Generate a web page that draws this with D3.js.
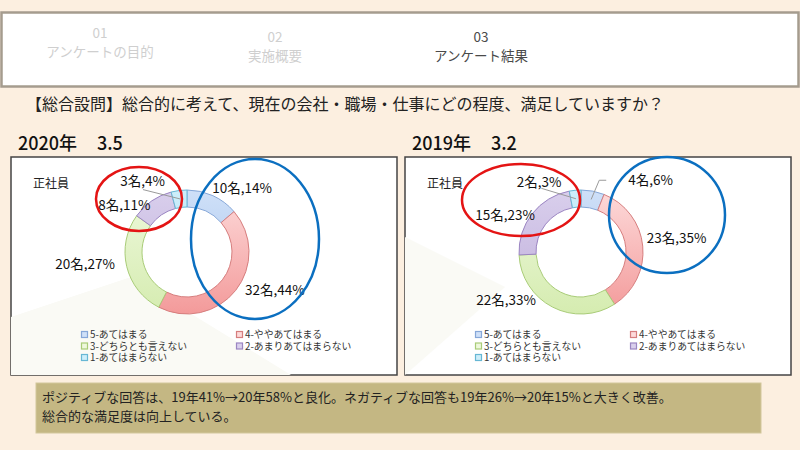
<!DOCTYPE html>
<html>
<head>
<meta charset="utf-8">
<script src="https://cdn.jsdelivr.net/npm/d3@7/dist/d3.min.js"></script>
<style>
  body { margin: 0; background: #fcefe0; }
  svg { display: block; font-family: "Noto Sans CJK JP", "Noto Sans", sans-serif; }
</style>
</head>
<body>
<div id="chart"></div>
<script>
// categories and values
const categories = ["5-あてはまる", "4-ややあてはまる", "3-どちらとも言えない", "2-あまりあてはまらない", "1-あてはまらない"];
const counts2020 = [10, 32, 20, 8, 3];
const pct2020 = [14, 44, 27, 11, 4];
const counts2019 = [4, 23, 22, 15, 2];
const pct2019 = [6, 35, 33, 23, 3];
const navSteps = ["01", "02", "03"];
const navLabels = ["アンケートの目的", "実施概要", "アンケート結果"];
const question = "【総合設問】総合的に考えて、現在の会社・職場・仕事にどの程度、満足していますか？";
const summary = ["ポジティブな回答は、19年41%→20年58%と良化。ネガティブな回答も19年26%→20年15%と大きく改善。",
                 "総合的な満足度は向上している。"];

const W = 800, H = 450;

const seriesColors = [
  {top: "#cfe0f8", bottom: "#a3c2ec", stroke: "#86a7d8"},
  {top: "#fddada", bottom: "#f39a9a", stroke: "#d67e7e"},
  {top: "#eef8dc", bottom: "#d5ecb0", stroke: "#a9cc78"},
  {top: "#d9cfec", bottom: "#bfaedb", stroke: "#9b85c2"},
  {top: "#cdeefa", bottom: "#a9ddf2", stroke: "#67b7d4"}
];

const svg = d3.select("#chart").append("svg")
    .attr("width", W)
    .attr("height", H);

const defs = svg.append("defs");

// ---- top navigation box
svg.append("rect")
    .attr("x", 1.5).attr("y", 12.5)
    .attr("width", 797).attr("height", 74)
    .attr("fill", "#fff")
    .attr("stroke", "#a59c8e")
    .attr("stroke-width", 2.5);

const navPos = {"01": 100, "02": 275, "03": 481};
navSteps.forEach((s, i) => {
  const active = i === navSteps.length - 1;
  const g = svg.append("g").attr("fill", active ? "#4a4a4a" : "#cfcfcf");
  g.append("text")
      .attr("x", navPos[s]).attr("y", i === 0 ? 38 : 42)
      .attr("text-anchor", "middle")
      .attr("font-size", 13.5)
      .text(s);
  g.append("text")
      .attr("x", navPos[s]).attr("y", i === 0 ? 57 : 61)
      .attr("text-anchor", "middle")
      .attr("font-size", 13.5)
      .text(navLabels[i]);
});

// ---- question
svg.append("text")
    .attr("x", 26).attr("y", 110)
    .attr("font-size", 16)
    .attr("fill", "#222")
    .text(question);

// ---- one donut panel
function drawPanel(opts) {
  const {year, score, counts, pcts, boxX, layout} = opts;
  const boxW = 386, boxY = 157, boxH = 218;
  const cx = boxX + 176, cy = 252;
  const rOuter = 62, rInner = 45;

  svg.append("text")
      .attr("x", boxX + 7).attr("y", 150)
      .attr("font-size", 18)
      .attr("font-weight", 500)
      .attr("fill", "#111")
      .call(t => t.append("tspan").text(year + "年"))
      .call(t => t.append("tspan").attr("x", boxX + 86).text(score));

  const g = svg.append("g");

  g.append("rect")
      .attr("x", boxX).attr("y", boxY)
      .attr("width", boxW).attr("height", boxH)
      .attr("fill", "#fff")
      .attr("stroke", "#444")
      .attr("stroke-width", 1.5);

  // faint decorative background shape
  g.append("path")
      .attr("d", layout.bgShape.map((p, i) => (i ? "L" : "M") + (boxX + p[0]) + "," + (boxY + p[1])).join("") + "Z")
      .attr("fill", "#fafaf5");

  g.append("text")
      .attr("x", boxX + 22).attr("y", 188)
      .attr("font-size", 12)
      .attr("fill", "#222")
      .text("正社員");

  // gradients per series (in the ring's local, translated coordinates)
  seriesColors.forEach((c, i) => {
    const lg = defs.append("linearGradient")
        .attr("id", "grad" + year + "_" + i)
        .attr("gradientUnits", "userSpaceOnUse")
        .attr("x1", 0).attr("x2", 0)
        .attr("y1", -rOuter).attr("y2", rOuter);
    lg.append("stop").attr("offset", "0%").attr("stop-color", c.top);
    lg.append("stop").attr("offset", "100%").attr("stop-color", c.bottom);
  });

  const pie = d3.pie().sort(null).value(d => d);
  const arcs = pie(counts);
  const arc = d3.arc().innerRadius(rInner).outerRadius(rOuter);

  const ring = g.append("g").attr("transform", `translate(${cx},${cy})`);
  ring.selectAll("path")
      .data(arcs)
      .join("path")
      .attr("d", arc)
      .attr("fill", (d, i) => `url(#grad${year}_${i})`)
      .attr("stroke", (d, i) => seriesColors[i].stroke)
      .attr("stroke-width", 1);

  // labels placed outside the ring on the mid angle
  const labelR = rOuter + 8;
  arcs.forEach((d, i) => {
    const a = (d.startAngle + d.endAngle) / 2;
    const nx = layout.nudge[i][0], ny = layout.nudge[i][1];
    const px = cx + Math.sin(a) * labelR + nx;
    const py = cy - Math.cos(a) * labelR + ny;
    const right = Math.sin(a) >= 0;
    g.append("text")
        .attr("x", px).attr("y", py)
        .attr("dy", "0.35em")
        .attr("text-anchor", right ? "start" : "end")
        .attr("font-size", 13.5)
        .attr("fill", "#111")
        .text(counts[i] + "名," + pcts[i] + "%");

    if (layout.leaders[i]) {
      const c = arc.centroid(d);
      const pts = layout.leaders[i].map(p => [px + p[0], py + p[1]]);
      pts.push([cx + c[0], cy + c[1]]);
      g.append("path")
          .attr("d", d3.line()(pts))
          .attr("fill", "none")
          .attr("stroke", "#9a9a9a")
          .attr("stroke-width", 1);
    }
  });

  // legend
  const legCols = [boxX + 70, boxX + 225];
  const legRows = [335, 346.5, 358];
  categories.forEach((c, i) => {
    const lx = legCols[i % 2], ly = legRows[Math.floor(i / 2)];
    g.append("rect")
        .attr("x", lx + 0.5).attr("y", ly - 3.5)
        .attr("width", 6).attr("height", 6)
        .attr("fill", seriesColors[i].top)
        .attr("stroke", seriesColors[i].stroke)
        .attr("stroke-width", 1.2);
    g.append("text")
        .attr("x", lx + 9).attr("y", ly)
        .attr("dy", "0.35em")
        .attr("font-size", 9.8)
        .attr("fill", "#333")
        .text(c);
  });

  // hand-drawn annotation ellipses
  layout.ellipses.forEach(e => {
    svg.append("ellipse")
        .attr("cx", cx + e.dx).attr("cy", cy + e.dy)
        .attr("rx", e.rx).attr("ry", e.ry)
        .attr("fill", "none")
        .attr("stroke", e.color)
        .attr("stroke-width", 2.5);
  });
}

drawPanel({
  year: 2020, score: "3.5", counts: counts2020, pcts: pct2020, boxX: 11,
  layout: {
    nudge: [[-4, 0], [3, -5], [-4, -4], [3, 11], [-13, -1]],
    leaders: [null, null, null, null, [[-22, 8]]],
    bgShape: [[0, 160], [120, 120], [280, 218], [0, 218]],
    ellipses: [
      {dx: -48, dy: -53, rx: 43, ry: 32, color: "#e41414"},
      {dx: 68, dy: -13, rx: 64, ry: 80, color: "#0b6fc0"}
    ]
  }
});

drawPanel({
  year: 2019, score: "3.2", counts: counts2019, pcts: pct2019, boxX: 405,
  layout: {
    nudge: [[34, -3], [-4, -7], [-13, -14], [9, 7], [-13, 0]],
    leaders: [[[-22, 0], [-29, 0]], null, null, null, [[-20, 6]]],
    bgShape: [[0, 80], [100, 130], [0, 218]],
    ellipses: [
      {dx: -60, dy: -52, rx: 59, ry: 36, color: "#e41414"},
      {dx: 86, dy: -37, rx: 58, ry: 58, color: "#0b6fc0"}
    ]
  }
});

// ---- summary box
svg.append("rect")
    .attr("x", 36).attr("y", 383)
    .attr("width", 725).attr("height", 50)
    .attr("fill", "#c4b783")
    .attr("stroke", "#d2c79c")
    .attr("stroke-width", 1);

summary.forEach((s, i) => {
  svg.append("text")
      .attr("x", 42).attr("y", 402 + i * 19)
      .attr("font-size", 13)
      .attr("fill", "#222")
      .text(s);
});
</script>
</body>
</html>
